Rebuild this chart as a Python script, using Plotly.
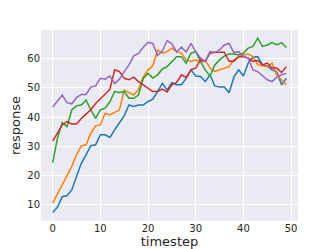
import plotly.graph_objects as go

timestep = list(range(50))

blue = [7.4, 9.2, 12.8, 13.1, 15.1, 19.7, 24.2, 27.1, 30.2, 30.5,
        33.9, 33.9, 33.0, 35.6, 37.9, 40.5, 44.1, 43.6, 44.1, 44.1,
        45.3, 46.1, 48.7, 51.5, 49.2, 51.7, 51.0, 51.0, 53.2, 56.1,
        54.0, 53.8, 52.1, 54.4, 50.6, 50.2, 50.2, 48.3, 53.6, 56.1,
        54.0, 58.4, 60.4, 60.6, 57.8, 57.4, 56.1, 55.4, 51.0, 53.2]

orange = [10.6, 13.8, 16.8, 19.9, 23.1, 27.1, 30.1, 30.5, 34.5, 37.0,
          37.3, 41.3, 40.7, 41.6, 42.4, 49.2, 48.4, 47.5, 49.4, 53.7,
          56.1, 57.5, 62.9, 61.8, 62.3, 63.5, 62.3, 61.8, 59.5, 59.0,
          59.5, 58.6, 59.3, 56.7, 55.6, 56.1, 56.7, 57.2, 59.5, 60.6,
          61.2, 61.5, 60.6, 57.8, 57.5, 57.2, 58.4, 54.4, 52.7, 51.0]

green = [24.4, 32.8, 38.1, 36.7, 42.4, 43.8, 44.1, 45.8, 42.4, 39.5,
         42.4, 43.0, 45.2, 48.7, 48.4, 48.7, 46.4, 46.4, 47.5, 53.2,
         54.9, 53.3, 54.4, 56.4, 57.2, 59.0, 60.6, 60.6, 58.4, 61.8,
         62.3, 59.0, 56.1, 54.0, 57.8, 59.5, 60.8, 61.5, 61.5, 61.2,
         61.8, 63.5, 64.1, 66.9, 64.1, 64.6, 65.4, 64.6, 65.4, 63.7]

red = [31.8, 34.5, 37.3, 38.4, 37.6, 37.6, 39.5, 41.0, 42.5, 44.6,
       46.1, 47.7, 49.4, 56.1, 55.5, 53.2, 52.7, 53.6, 52.1, 51.0,
       49.8, 48.7, 48.8, 49.5, 48.5, 51.0, 51.8, 54.4, 53.5, 56.1,
       56.7, 59.5, 59.0, 61.8, 62.1, 62.1, 62.1, 59.0, 59.0, 60.6,
       60.6, 60.1, 59.0, 59.3, 57.8, 58.4, 56.7, 56.7, 55.2, 57.2]

purple = [43.4, 45.4, 47.5, 44.9, 44.5, 46.6, 47.7, 47.7, 50.2, 50.6,
          53.2, 52.9, 54.0, 51.4, 52.9, 55.5, 57.8, 60.9, 61.7, 63.8,
          65.5, 65.1, 61.0, 62.5, 66.1, 65.0, 62.2, 63.9, 62.2, 65.1,
          62.3, 60.1, 59.0, 62.3, 62.0, 62.9, 64.6, 65.1, 62.0, 62.3,
          60.8, 60.1, 56.1, 55.5, 54.0, 52.7, 52.1, 53.6, 54.4, 54.9]

series = [("blue", blue, "#1f77b4"), ("orange", orange, "#ff7f0e"),
          ("green", green, "#2ca02c"), ("red", red, "#d62728"),
          ("purple", purple, "#9467bd")]

x_ticks = [0, 10, 20, 30, 40, 50]
y_ticks = [10, 20, 30, 40, 50, 60]

fig = go.Figure()
for name, vals, color in series:
    fig.add_trace(go.Scatter(x=timestep, y=vals, mode="lines", name=name,
                             line=dict(color=color, width=1.5)))

axis_common = dict(showgrid=True, gridcolor="white", gridwidth=1,
                   zeroline=False, showline=False, ticks="", automargin=False,
                   tickfont=dict(family="DejaVu Sans", size=10, color="#262626"))

# page body has an 8px margin, so the figure is sized to fit the 332x249 window
fig.update_layout(
    width=324, height=241,
    margin=dict(l=33, r=34, t=22, b=28),
    paper_bgcolor="white", plot_bgcolor="#EAEAF2",
    showlegend=False,
    font=dict(family="DejaVu Sans", color="#262626"),
    xaxis=dict(range=[-2.45, 51.45], tickvals=x_ticks,
               title=dict(text="timestep", font=dict(size=13), standoff=2),
               **axis_common),
    yaxis=dict(range=[4.5, 69.7], tickvals=y_ticks,
               title=dict(text="response", font=dict(size=13), standoff=4),
               **axis_common),
)

fig.write_html("out.html")
